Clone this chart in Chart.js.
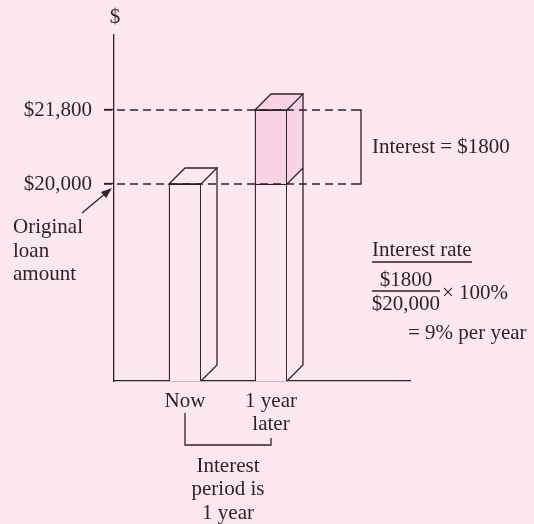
<!DOCTYPE html>
<html>
<head>
<meta charset="utf-8">
<script src="https://cdn.jsdelivr.net/npm/chart.js@4.4.0/dist/chart.umd.min.js"></script>
<style>
  html, body { margin: 0; padding: 0; background: #fde7f0; }
  #wrap { width: 534px; height: 524px; }
</style>
</head>
<body>
<div id="wrap"><canvas id="loanChart" width="534" height="524"></canvas></div>
<script>
// Data
const periods = [["Now"], ["1 year", "later"]];
const periodPos = [1, 2];
const loanAmount = [20000, 20000];
const interestAmount = [0, 1800];
const yTicks = [20000, 21800];

const bg = "#fde7f0";
const pink = "#f9d3e3";
const ink = "#2b2527";
const serif = '"Liberation Serif", "DejaVu Serif", serif';
const fontSize = 21;
const depth = 16;

// thousands comma only on the big amounts, like the figure
function money(v) {
    return "$" + (v >= 10000 ? v.toLocaleString("en-US") : String(v));
}

// 3d sides, dashed guide lines and the notes around the bars
const boxPlugin = {
    id: "box3d",
    afterDatasetsDraw(chart) {
        const ctx = chart.ctx;
        const xs = chart.scales.x;
        const ys = chart.scales.y;
        const area = chart.chartArea;
        const loanMeta = chart.getDatasetMeta(0);
        const intMeta = chart.getDatasetMeta(1);

        ctx.save();
        ctx.lineWidth = 1.3;
        ctx.strokeStyle = ink;

        loanMeta.data.forEach(function (bar, i) {
            const p = bar.getProps(["x", "y", "base", "width"], true);
            const left = p.x - p.width / 2;
            const right = p.x + p.width / 2;
            const mid = p.y;
            const top = interestAmount[i] ? intMeta.data[i].getProps(["y"], true).y : mid;
            const bottom = Math.min(p.base, area.bottom);
            const d = depth;

            // side face
            ctx.beginPath();
            ctx.moveTo(right, top);
            ctx.lineTo(right + d, top - d);
            ctx.lineTo(right + d, bottom - d);
            ctx.lineTo(right, bottom);
            ctx.closePath();
            ctx.fillStyle = bg;
            ctx.fill();
            if (interestAmount[i]) {
                ctx.beginPath();
                ctx.moveTo(right, top);
                ctx.lineTo(right + d, top - d);
                ctx.lineTo(right + d, mid - d);
                ctx.lineTo(right, mid);
                ctx.closePath();
                ctx.fillStyle = pink;
                ctx.fill();
            }
            // top face
            ctx.beginPath();
            ctx.moveTo(left, top);
            ctx.lineTo(left + d, top - d);
            ctx.lineTo(right + d, top - d);
            ctx.lineTo(right, top);
            ctx.closePath();
            ctx.fillStyle = interestAmount[i] ? pink : bg;
            ctx.fill();
            ctx.stroke();

            ctx.beginPath();
            ctx.moveTo(right + d, top - d);
            ctx.lineTo(right + d, bottom - d);
            ctx.lineTo(right, bottom);
            if (interestAmount[i]) {
                ctx.moveTo(right, mid);
                ctx.lineTo(right + d, mid - d);
            }
            ctx.stroke();
        });

        // dashed guides + bracket
        const bracketX = xs.getPixelForValue(periodPos[1]) + 90;
        const yHi = ys.getPixelForValue(yTicks[1]);
        const yLo = ys.getPixelForValue(yTicks[0]);
        ctx.setLineDash([8, 5]);
        ctx.beginPath();
        yTicks.forEach(function (v) {
            const py = ys.getPixelForValue(v);
            ctx.moveTo(area.left - 10, py);
            ctx.lineTo(bracketX - 8, py);
        });
        ctx.stroke();
        ctx.setLineDash([]);
        ctx.beginPath();
        ctx.moveTo(bracketX - 8, yHi);
        ctx.lineTo(bracketX, yHi);
        ctx.lineTo(bracketX, yLo);
        ctx.lineTo(bracketX - 8, yLo);
        ctx.stroke();

        ctx.fillStyle = ink;
        ctx.font = fontSize + "px " + serif;
        ctx.textBaseline = "middle";
        ctx.textAlign = "left";
        ctx.fillText("Interest = " + money(interestAmount[1]), bracketX + 11, (yHi + yLo) / 2);

        // "$" over the axis
        ctx.textAlign = "center";
        ctx.fillText("$", area.left + 1, 17);

        // original loan note + arrow
        ctx.textAlign = "left";
        ctx.fillText("Original", 13, 227);
        ctx.fillText("loan", 13, 251);
        ctx.fillText("amount", 13, 274);
        const tipX = area.left - 2, tipY = yLo + 4;
        const tailX = 82, tailY = 213;
        const ang = Math.atan2(tipY - tailY, tipX - tailX);
        ctx.beginPath();
        ctx.moveTo(tailX, tailY);
        ctx.lineTo(tipX - 6 * Math.cos(ang), tipY - 6 * Math.sin(ang));
        ctx.stroke();
        ctx.beginPath();
        ctx.moveTo(tipX, tipY);
        ctx.lineTo(tipX - 11 * Math.cos(ang) + 4 * Math.sin(ang), tipY - 11 * Math.sin(ang) - 4 * Math.cos(ang));
        ctx.lineTo(tipX - 11 * Math.cos(ang) - 4 * Math.sin(ang), tipY - 11 * Math.sin(ang) + 4 * Math.cos(ang));
        ctx.closePath();
        ctx.fill();

        // interest rate formula
        const fx = bracketX + 11;
        ctx.fillText("Interest rate", fx, 250);
        ctx.beginPath();
        ctx.moveTo(fx, 262);
        ctx.lineTo(fx + 100, 262);
        ctx.moveTo(fx, 291);
        ctx.lineTo(fx + 68, 291);
        ctx.stroke();
        ctx.textAlign = "center";
        ctx.fillText(money(interestAmount[1]), fx + 34, 280);
        ctx.fillText(money(loanAmount[1]), fx + 34, 304);
        ctx.textAlign = "left";
        ctx.fillText("\u00d7 100%", fx + 70, 293);
        ctx.fillText("= 9% per year", fx + 36, 333);

        // interest period bracket
        const x1 = xs.getPixelForValue(periodPos[0]);
        const x2 = xs.getPixelForValue(periodPos[1]);
        ctx.beginPath();
        ctx.moveTo(x1, 413);
        ctx.lineTo(x1, 445);
        ctx.lineTo(x2, 445);
        ctx.lineTo(x2, 438);
        ctx.stroke();
        ctx.textAlign = "center";
        const cx = (x1 + x2) / 2;
        ctx.fillText("Interest", cx, 466);
        ctx.fillText("period is", cx, 489);
        ctx.fillText("1 year", cx, 513);
        ctx.restore();
    }
};

const ctxEl = document.getElementById("loanChart");

new Chart(ctxEl, {
    type: "bar",
    data: {
        datasets: [
            {
                label: "Original loan",
                data: periodPos.map((x, i) => ({ x: x, y: loanAmount[i] })),
                backgroundColor: bg,
                borderColor: ink,
                borderWidth: 1.3,
                borderSkipped: "bottom",
                barThickness: 32,
            },
            {
                label: "Interest",
                data: periodPos.map((x, i) => ({ x: x, y: interestAmount[i] })),
                backgroundColor: pink,
                borderColor: ink,
                borderWidth: { top: 1.3, left: 1.3, right: 1.3, bottom: 0 },
                borderSkipped: "bottom",
                barThickness: 32,
            },
        ],
    },
    options: {
        responsive: false,
        animation: false,
        layout: { padding: { left: 0, top: 35, right: 124, bottom: 0 } },
        plugins: { legend: { display: false }, tooltip: { enabled: false } },
        scales: {
            x: {
                type: "linear",
                stacked: true,
                offset: false,
                min: 0.1744,
                max: 3.6163,
                afterFit: function (scale) {
                    scale.height = 143;
                },
                afterBuildTicks: function (scale) {
                    scale.ticks = periodPos.map((v) => ({ value: v }));
                },
                grid: { display: true, drawOnChartArea: false, drawTicks: false, offset: false },
                border: { display: true, color: ink, width: 1.3 },
                ticks: {
                    autoSkip: false,
                    maxRotation: 0,
                    padding: 9,
                    color: ink,
                    font: { family: serif, size: fontSize, lineHeight: 1.1 },
                    callback: function (v) {
                        return periods[periodPos.indexOf(v)];
                    },
                },
            },
            y: {
                stacked: true,
                min: 15208,
                max: 23624,
                afterFit: function (scale) {
                    scale.width = 114;
                },
                afterBuildTicks: function (scale) {
                    scale.ticks = yTicks.map((v) => ({ value: v }));
                },
                grid: { display: true, drawOnChartArea: false, drawTicks: true, tickLength: 10, tickColor: ink, tickWidth: 1.3 },
                border: { display: true, color: ink, width: 1.3 },
                ticks: {
                    padding: 12,
                    color: ink,
                    font: { family: serif, size: fontSize },
                    callback: function (v) {
                        return money(v);
                    },
                },
            },
        },
    },
    plugins: [boxPlugin],
});
</script>
</body>
</html>
